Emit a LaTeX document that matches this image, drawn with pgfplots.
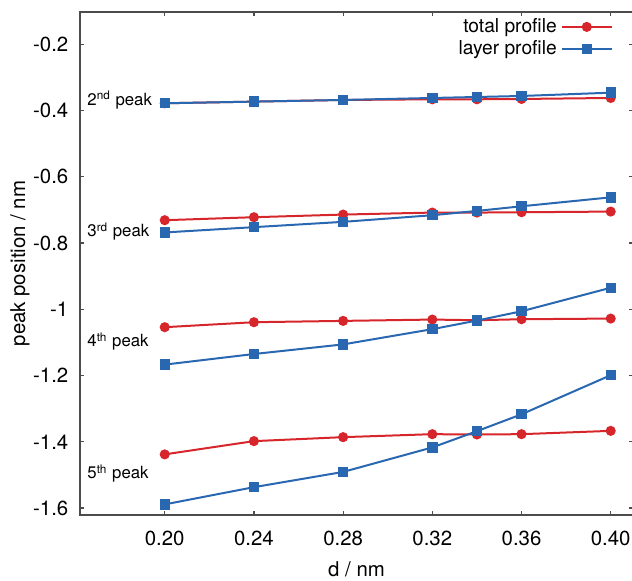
\documentclass[border=0pt]{standalone}
\usepackage{fontspec}
\setmainfont{TeX Gyre Heros}
\usepackage{pgfplots}
\pgfplotsset{compat=1.18}

\definecolor{tred}{HTML}{D7262B}
\definecolor{lblue}{HTML}{2A67B1}

\begin{document}
\begin{tikzpicture}
\begin{axis}[%
name=ax,
scale only axis,
width=276.5pt, height=251.5pt,
xmin=0.162, xmax=0.41,
ymin=-1.621, ymax=-0.1024,
xtick={0.20,0.24,0.28,0.32,0.36,0.40},
ytick={-1.6,-1.4,-1.2,-1.0,-0.8,-0.6,-0.4,-0.2},
xticklabel style={yshift=-4.5pt, /pgf/number format/.cd, fixed, fixed zerofill, precision=2},
yticklabel style={xshift=-2.3pt},
/pgf/number format/assume math mode=true,
tick label style={font=\fontsize{10.2}{12}\selectfont},
label style={font=\fontsize{10.2}{12}\selectfont},
xlabel={d / nm},
ylabel={peak position / nm},
xlabel style={at={(axis description cs:0.5,-0.108)}, anchor=center},
ylabel style={at={(axis description cs:-0.1085,0.5)}, anchor=center},
axis line style={black!70, line width=0.6pt},
major tick length=2.2pt,
tick style={black!70, line width=0.6pt},
every axis plot/.append style={line width=1pt},
legend plot pos=right,
legend cell align=right,
legend style={
    at={(axis description cs:0.975,1.004)},
    anchor=north east,
    draw=none, fill=none,
    font=\fontsize{9.6}{11}\selectfont,
    row sep=-1.5pt,
},
legend image code/.code={%
    \draw[mark repeat=2,mark phase=2,#1] plot coordinates {(0pt,0pt) (12.5pt,0pt) (25pt,0pt)};},
]
% 2nd peak
\addplot[tred, mark=*, mark size=2pt] coordinates {
(0.20,-0.378) (0.24,-0.373) (0.28,-0.368) (0.32,-0.366) (0.34,-0.366) (0.36,-0.365) (0.40,-0.362)};
\addlegendentry{total profile}
\addplot[lblue, mark=square*, mark size=2.1pt] coordinates {
(0.20,-0.378) (0.24,-0.373) (0.28,-0.368) (0.32,-0.362) (0.34,-0.359) (0.36,-0.356) (0.40,-0.346)};
\addlegendentry{layer profile}
% 3rd peak
\addplot[tred, mark=*, mark size=2pt, forget plot] coordinates {
(0.20,-0.731) (0.24,-0.722) (0.28,-0.714) (0.32,-0.708) (0.34,-0.708) (0.36,-0.707) (0.40,-0.705)};
\addplot[lblue, mark=square*, mark size=2.1pt, forget plot] coordinates {
(0.20,-0.768) (0.24,-0.752) (0.28,-0.736) (0.32,-0.716) (0.34,-0.703) (0.36,-0.689) (0.40,-0.662)};
% 4th peak
\addplot[tred, mark=*, mark size=2pt, forget plot] coordinates {
(0.20,-1.054) (0.24,-1.039) (0.28,-1.035) (0.32,-1.031) (0.34,-1.033) (0.36,-1.030) (0.40,-1.028)};
\addplot[lblue, mark=square*, mark size=2.1pt, forget plot] coordinates {
(0.20,-1.167) (0.24,-1.135) (0.28,-1.106) (0.32,-1.060) (0.34,-1.034) (0.36,-1.006) (0.40,-0.935)};
% 5th peak
\addplot[tred, mark=*, mark size=2pt, forget plot] coordinates {
(0.20,-1.438) (0.24,-1.398) (0.28,-1.386) (0.32,-1.377) (0.34,-1.378) (0.36,-1.377) (0.40,-1.367)};
\addplot[lblue, mark=square*, mark size=2.1pt, forget plot] coordinates {
(0.20,-1.589) (0.24,-1.537) (0.28,-1.491) (0.32,-1.417) (0.34,-1.368) (0.36,-1.317) (0.40,-1.199)};

\begin{scope}[every node/.style={anchor=base west, inner sep=0pt, font=\fontsize{8.4}{10}\selectfont}]
\node at (axis description cs:0.0127,0.815) {2\textsuperscript{nd} peak};
\node at (axis description cs:0.0127,0.553) {3\textsuperscript{rd} peak};
\node at (axis description cs:0.0127,0.334) {4\textsuperscript{th} peak};
\node at (axis description cs:0.0127,0.0716) {5\textsuperscript{th} peak};
\end{scope}
\end{axis}
\pgfresetboundingbox
\path[use as bounding box] ([xshift=-40pt,yshift=-33pt]ax.south west) rectangle ([xshift=-0.5pt,yshift=6pt]ax.north east);
\end{tikzpicture}
\end{document}
